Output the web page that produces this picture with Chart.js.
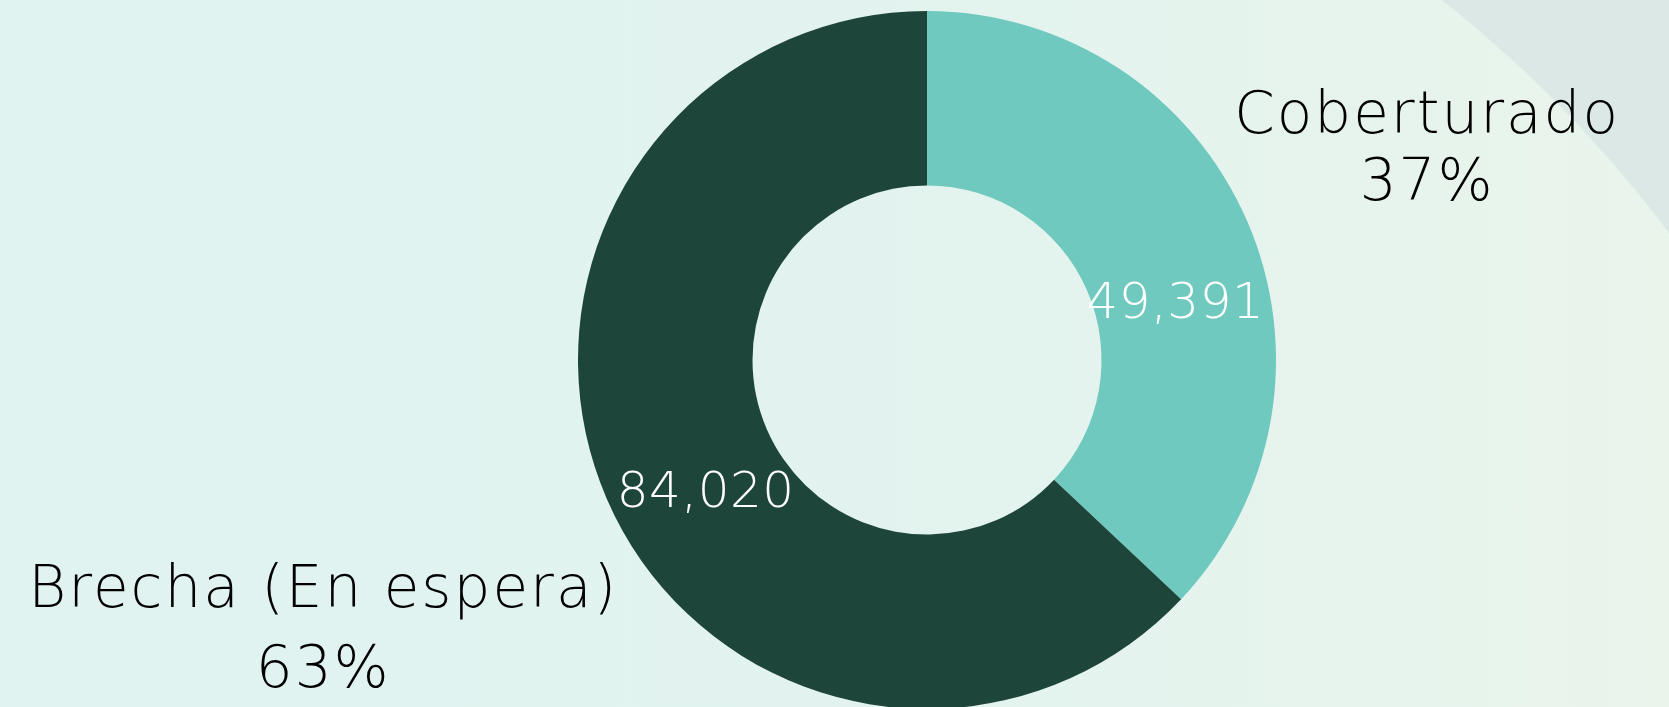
<!DOCTYPE html>
<html lang="es">
<head>
<meta charset="utf-8">
<title>Cobertura</title>
<script src="https://cdn.jsdelivr.net/npm/chart.js@4.4.0/dist/chart.umd.min.js"></script>
<style>
  html, body { margin: 0; padding: 0; overflow: hidden; }
  body {
    width: 1669px; height: 707px;
    background:
      radial-gradient(circle 1262px at 660px 990px, rgba(219,232,230,0) 99.9%, #dbe8e6 100%),
      linear-gradient(90deg, #e0f3f1 0%, #e2f3ef 50%, #e9f4eb 100%);
  }
  #wrap { position: relative; width: 1669px; height: 710px; }
</style>
</head>
<body>
<div id="wrap"><canvas id="dona"></canvas></div>
<script>
// Datos
const categorias = ['Coberturado', 'Brecha (En espera)'];
const valores    = [49391, 84020];
const colores    = ['#6fc9bf', '#1e453a'];

const FUENTE = '"DejaVu Sans", sans-serif';

// Etiquetas: valor dentro del arco y categoría + % fuera (estilo Power BI)
const etiquetas = {
  id: 'etiquetas',
  afterDatasetsDraw(chart) {
    const ctx = chart.ctx;
    const meta = chart.getDatasetMeta(0);
    const total = valores.reduce((a, b) => a + b, 0);
    const giro = [0.166, -0.117]; // ajuste angular de la etiqueta interna
    // desplazamiento de las etiquetas externas, en unidades del radio
    const fuera = [
      { dx: 1.433, dy: -0.65, paso: 67 },
      { dx: -1.73, dy: 0.708, paso: 80 }
    ];
    ctx.save();
    ctx.textAlign = 'center';
    ctx.textBaseline = 'alphabetic';
    meta.data.forEach((arc, i) => {
      const p = arc.getProps(['x', 'y', 'startAngle', 'endAngle', 'innerRadius', 'outerRadius'], true);
      const mid = (p.startAngle + p.endAngle) / 2 + giro[i];
      const r = (p.innerRadius + p.outerRadius) / 2 - 6;
      ctx.fillStyle = '#ffffff';
      ctx.font = `200 50px ${FUENTE}`;
      ctx.letterSpacing = '0.5px';
      ctx.fillText(valores[i].toLocaleString('en-US'), p.x + Math.cos(mid) * r, p.y + Math.sin(mid) * r + 19);

      const f = fuera[i];
      const lx = p.x + f.dx * p.outerRadius;
      const ly = p.y + f.dy * p.outerRadius;
      ctx.fillStyle = '#000000';
      ctx.font = `200 58px ${FUENTE}`;
      ctx.letterSpacing = '2px';
      ctx.fillText(categorias[i], lx, ly);
      ctx.fillText(Math.round(valores[i] / total * 100) + '%', lx, ly + f.paso);
    });
    ctx.restore();
  }
};

new Chart(document.getElementById('dona'), {
  type: 'doughnut',
  data: {
    labels: categorias,
    datasets: [{
      data: valores,
      backgroundColor: colores,
      borderWidth: 0,
      hoverOffset: 0
    }]
  },
  options: {
    responsive: true,
    maintainAspectRatio: false,
    animation: false,
    cutout: '50%',
    layout: { padding: { top: 11, bottom: 1, left: 578, right: 393 } },
    plugins: { legend: { display: false }, tooltip: { enabled: false } }
  },
  plugins: [etiquetas]
});
</script>
</body>
</html>
